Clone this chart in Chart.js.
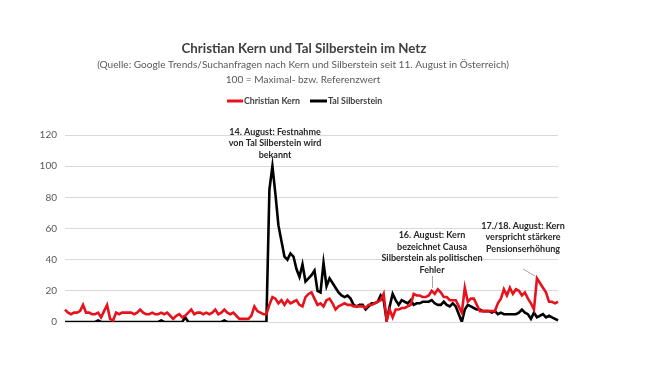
<!DOCTYPE html>
<html><head><meta charset="utf-8">
<script src="https://cdn.jsdelivr.net/npm/chart.js@4"></script>
<style>html,body{margin:0;padding:0;background:#fff;}#wrap{width:650px;height:380px;}</style>
</head><body><div id="wrap"><canvas id="c" width="650" height="380"></canvas></div>
<script>
// Google Trends index, hourly from 11 August
const kern = [8,6,5,6,6,7,11,6,6,5, 5,6,3,7,11,2,1,6,5,6, 6,6,6,5,6,8,6,5,5,6, 5,5,6,5,6,4,2,4,5,3, 4,6,8,5,6,6,5,6,5,6, 8,5,6,8,6,5,6,4,2,2, 2,2,4,10,7,6,5,5,11,16, 15,12,14,11,14,12,13,14,11,10, 16,18,19,15,11,12,10,14,15,12, 8,10,11,12,11,11,10,10,10,10, 9,11,11,12,13,14,18,1,8,3, 8,8,9,9,10,11,18,17,17,16, 16,17,20,18,21,19,16,16,14,14, 14,10,6,22,13,15,15,11,7,7, 7,7,7,7,12,15,21,17,22,18, 21,20,17,19,15,12,8,28,25,22, 19,13,13,12,13];
const silberstein = [0,0,0,0,0,0,0,0,0,0, 0,1,0,0,0,0,0,0,0,0, 0,0,0,0,0,0,0,0,0,0, 0,0,1,0,0,0,0,0,0,0, 3,0,0,0,0,0,0,0,0,0, 0,0,0,1,0,0,0,0,0,0, 0,0,0,0,0,0,0,0,85,100, 82,62,52,42,40,44,42,34,29,37, 26,28,30,33,20,19,38,23,28,25, 22,19,17,16,17,15,11,10,11,11, 8,10,12,12,13,17,14,1,10,18, 14,11,14,13,12,14,11,12,12,13, 13,13,14,12,11,11,13,11,10,12, 10,5,0,8,11,10,9,8,8,7, 7,7,6,7,5,6,5,5,5,5, 5,6,8,6,5,2,6,3,4,5, 3,4,3,2,1];
const hours = kern.map((_, i) => (11 + Math.floor(i / 24)) + '. Aug ' + (i % 24) + ':00');
const yTicks = [0, 20, 40, 60, 80, 100, 120];
const seriesNames = ['Christian Kern', 'Tal Silberstein'];
const titleText = 'Christian Kern und Tal Silberstein im Netz';
const subtitleLines = ['(Quelle: Google Trends/Suchanfragen nach Kern und Silberstein seit 11. August in Österreich)', '100 = Maximal- bzw. Referenzwert'];
const notes = [
  ['14. August: Festnahme', 'von Tal Silberstein wird', 'bekannt'],
  ['16. August: Kern', 'bezeichnet Causa', 'Silberstein als politischen', 'Fehler'],
  ['17./18. August: Kern', 'verspricht stärkere', 'Pensionserhöhung']
];

const RED = '#e8121c', BLACK = '#000000';
const FONT = 'Lato, "Open Sans", sans-serif';

const textPlugin = {
  id: 'texts',
  afterDraw(chart) {
    const ctx = chart.ctx;
    ctx.save();
    ctx.textAlign = 'center';
    ctx.textBaseline = 'middle';
    ctx.fillStyle = '#404040';
    ctx.font = 'bold 13.3px ' + FONT;
    ctx.fillText(titleText, 304, 49);
    ctx.fillStyle = '#595959';
    ctx.font = '10.1px ' + FONT;
    ctx.fillText(subtitleLines[0], 303, 65);
    ctx.fillText(subtitleLines[1], 303, 80);
    // legend
    ctx.lineWidth = 3;
    ctx.strokeStyle = RED;
    ctx.beginPath(); ctx.moveTo(227, 101); ctx.lineTo(243, 101); ctx.stroke();
    ctx.strokeStyle = BLACK;
    ctx.beginPath(); ctx.moveTo(310, 101); ctx.lineTo(327, 101); ctx.stroke();
    ctx.textAlign = 'left';
    ctx.fillStyle = '#404040';
    ctx.font = 'bold 8.8px ' + FONT;
    ctx.fillText(seriesNames[0], 244, 101);
    ctx.fillText(seriesNames[1], 328, 101);
    // annotations
    ctx.textAlign = 'center';
    ctx.fillStyle = '#262626';
    ctx.font = 'bold 9px ' + FONT;
    const pos = [[275, 132, 11.5], [432, 235, 11.7], [523, 226, 11.3]];
    notes.forEach((lines, k) => {
      lines.forEach((t, j) => ctx.fillText(t, pos[k][0], pos[k][1] + j * pos[k][2]));
    });
    ctx.strokeStyle = '#a6a6a6';
    ctx.lineWidth = 1;
    ctx.beginPath(); ctx.moveTo(432.5, 276); ctx.lineTo(432.5, 288); ctx.stroke();
    ctx.beginPath(); ctx.moveTo(523, 269); ctx.lineTo(535, 276); ctx.stroke();
    ctx.restore();
  }
};

new Chart(document.getElementById('c'), {
  type: 'line',
  data: {
    labels: hours,
    datasets: [
      { label: seriesNames[0], data: kern, borderColor: RED, borderWidth: 2.6, pointRadius: 0, tension: 0, fill: false },
      { label: seriesNames[1], data: silberstein, borderColor: BLACK, borderWidth: 2.6, pointRadius: 0, tension: 0, fill: false }
    ]
  },
  options: {
    responsive: false,
    animation: false,
    devicePixelRatio: 1,
    layout: { padding: { top: 135, right: 92, bottom: 58, left: 0 } },
    plugins: { legend: { display: false }, title: { display: false }, tooltip: { enabled: false } },
    scales: {
      x: { display: false, offset: false },
      y: {
        min: 0, max: 120,
        afterFit(s) { s.width = 65; },
        afterBuildTicks(s) { s.ticks = yTicks.map(v => ({ value: v })); },
        border: { display: false },
        grid: { color: '#d9d9d9', lineWidth: 1, drawTicks: false },
        ticks: { padding: 8, color: '#595959', font: { family: FONT, size: 10 } }
      }
    }
  },
  plugins: [textPlugin]
});
</script>
</body></html>
